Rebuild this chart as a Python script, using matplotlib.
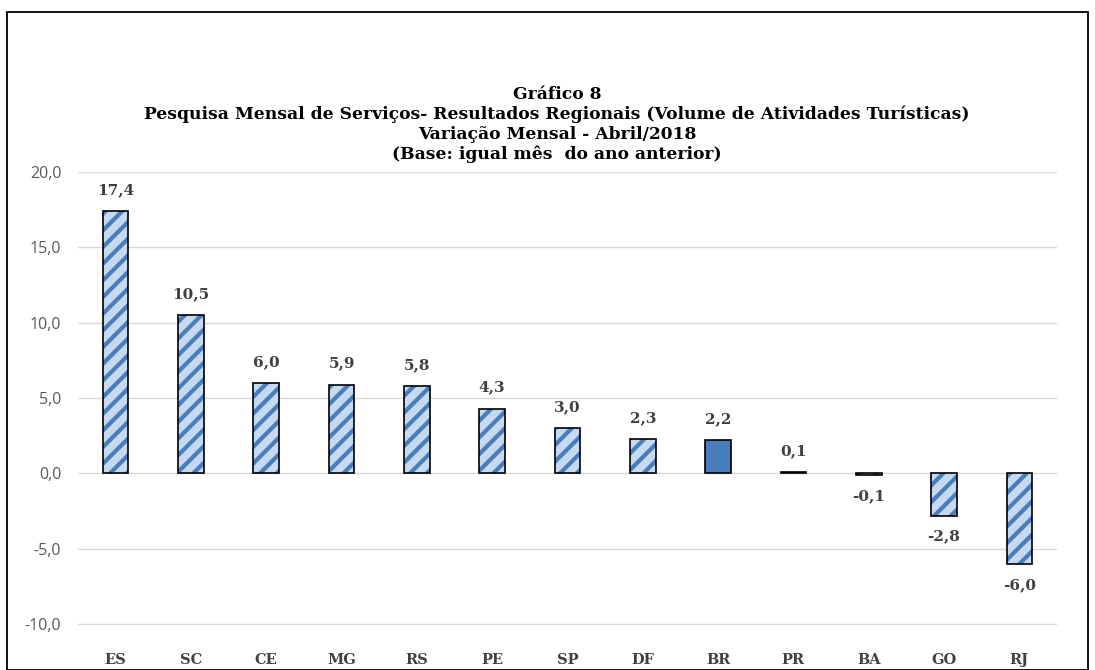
import matplotlib.pyplot as plt
import matplotlib.patches as mpatches
import numpy as np

# dados do gráfico
estados = ['ES', 'SC', 'CE', 'MG', 'RS', 'PE', 'SP', 'DF', 'BR', 'PR', 'BA', 'GO', 'RJ']
variacao = [17.4, 10.5, 6.0, 5.9, 5.8, 4.3, 3.0, 2.3, 2.2, 0.1, -0.1, -2.8, -6.0]
yticks = [-10, -5, 0, 5, 10, 15, 20]

titulo = ('Gráfico 8\n'
          'Pesquisa Mensal de Serviços- Resultados Regionais (Volume de Atividades Turísticas)\n'
          'Variação Mensal - Abril/2018\n'
          '(Base: igual mês  do ano anterior)')

serif = ['DejaVu Serif']
sans = ['Open Sans', 'DejaVu Sans']

plt.rcParams['hatch.linewidth'] = 3.0

fig = plt.figure(figsize=(10.95, 6.7), dpi=100)
ax = fig.add_axes([0.0712, 0.0672, 0.8941, 0.6761])

x = np.arange(len(estados))
largura = 0.34
for i, (uf, v) in enumerate(zip(estados, variacao)):
    if uf == 'BR':
        ax.bar(i, v, width=largura, color='#4A7EBB', edgecolor='black', linewidth=1.2, zorder=3)
    else:
        ax.bar(i, v, width=largura, color='#C5D9F1', edgecolor='#4A7EBB', hatch='//', linewidth=0, zorder=3)
        ax.bar(i, v, width=largura, fill=False, edgecolor='black', linewidth=1.2, zorder=4)
    desloc = 21 if v >= 0 else -21
    ax.annotate(f'{v:.1f}'.replace('.', ','), (i, v), xytext=(0, desloc), textcoords='offset pixels',
                ha='center', va='center', fontsize=11, fontweight='bold', color='#404040', family=serif)

ax.set_xlim(-0.5, len(estados) - 0.5)
ax.set_ylim(-10.05, 20)
ax.set_yticks(yticks)
ax.set_yticklabels([f'{t:.1f}'.replace('.', ',') for t in yticks], family=sans, fontsize=11.5, color='#595959')
ax.set_xticks(x)
ax.set_xticklabels(estados, family=serif, fontsize=10.5, fontweight='bold', color='#404040')
ax.tick_params(length=0, pad=12)
ax.tick_params(axis='x', pad=20)
ax.grid(axis='y', color='#D9D9D9', linewidth=1, zorder=0)
for s in ax.spines.values():
    s.set_visible(False)

fig.text(0.5087, 0.814, titulo, ha='center', va='center', fontsize=12.3, fontweight='bold',
         family=serif, linespacing=1.2)

# moldura do gráfico
fig.patches.append(mpatches.Rectangle((7 / 1095, 0.0), 1081 / 1095, 658 / 670, transform=fig.transFigure,
                                      fill=False, edgecolor='black', linewidth=1.3))

fig.savefig('out.png', dpi=100)
